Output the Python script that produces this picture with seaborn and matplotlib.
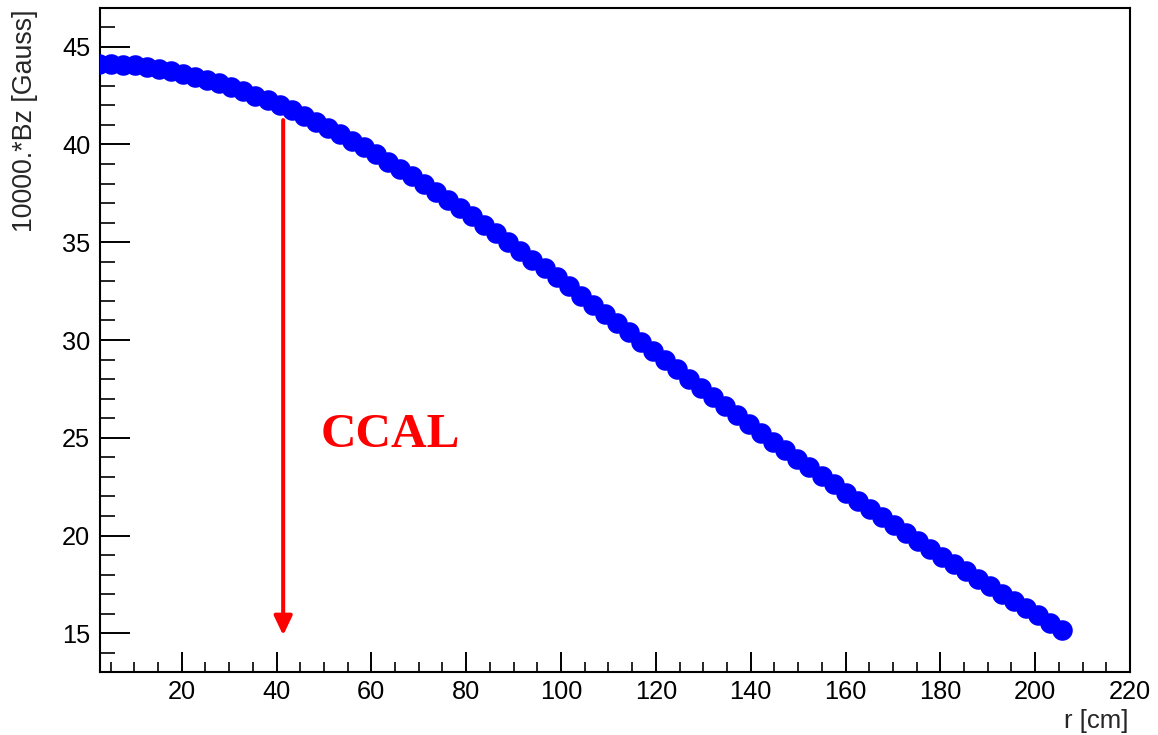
import matplotlib
matplotlib.use("Agg")
import matplotlib.pyplot as plt
from matplotlib.ticker import MultipleLocator
import seaborn as sns
import pandas as pd

# ---- data ----
r_cm = [2.54, 5.08, 7.62, 10.16, 12.70, 15.24, 17.78, 20.32, 22.86, 25.40,
        27.94, 30.48, 33.02, 35.56, 38.10, 40.64, 43.18, 45.72, 48.26, 50.80,
        53.34, 55.88, 58.42, 60.96, 63.50, 66.04, 68.58, 71.12, 73.66, 76.20,
        78.74, 81.28, 83.82, 86.36, 88.90, 91.44, 93.98, 96.52, 99.06, 101.60,
        104.14, 106.68, 109.22, 111.76, 114.30, 116.84, 119.38, 121.92, 124.46, 127.00,
        129.54, 132.08, 134.62, 137.16, 139.70, 142.24, 144.78, 147.32, 149.86, 152.40,
        154.94, 157.48, 160.02, 162.56, 165.10, 167.64, 170.18, 172.72, 175.26, 177.80,
        180.34, 182.88, 185.42, 187.96, 190.50, 193.04, 195.58, 198.12, 200.66, 203.20,
        205.74]
bz_gauss = [44.14, 44.11, 44.08, 44.04, 43.94, 43.84, 43.74, 43.63, 43.46, 43.30,
            43.13, 42.96, 42.73, 42.50, 42.27, 42.03, 41.74, 41.45, 41.17, 40.86,
            40.53, 40.19, 39.86, 39.51, 39.13, 38.76, 38.38, 37.99, 37.58, 37.17,
            36.76, 36.33, 35.90, 35.46, 35.02, 34.57, 34.11, 33.66, 33.20, 32.74,
            32.27, 31.80, 31.33, 30.86, 30.39, 29.91, 29.44, 28.97, 28.50, 28.03,
            27.56, 27.10, 26.63, 26.17, 25.71, 25.26, 24.81, 24.37, 23.92, 23.49,
            23.06, 22.62, 22.19, 21.78, 21.36, 20.94, 20.53, 20.13, 19.73, 19.33,
            18.93, 18.55, 18.17, 17.78, 17.40, 17.03, 16.66, 16.29, 15.92, 15.55,
            15.19]
x_ticks = [20, 40, 60, 80, 100, 120, 140, 160, 180, 200, 220]
y_ticks = [15, 20, 25, 30, 35, 40, 45]
x_label = "r [cm]"
y_label = "10000.*Bz [Gauss]"
note_text = "CCAL"
arrow_r = 41.4
arrow_from, arrow_to = 41.25, 14.9

df = pd.DataFrame({"r": r_cm, "bz": bz_gauss})

sns.set_style("ticks")
plt.rcParams["font.family"] = ["Liberation Sans", "DejaVu Sans"]

W, H = 1158, 735
fig = plt.figure(figsize=(W / 100, H / 100), dpi=100)
ax = fig.add_axes([100 / W, 1 - 671.7 / H, 1030 / W, (671.7 - 8) / H])

sns.scatterplot(data=df, x="r", y="bz", ax=ax, color="#0000ff", s=14.8 ** 2,
                linewidth=0, marker="o", zorder=3, legend=False)

ax.set_xlim(2.77, 220)
ax.set_ylim(13.04, 46.98)
ax.set_xticks(x_ticks)
ax.set_yticks(y_ticks)
ax.xaxis.set_minor_locator(MultipleLocator(5))
ax.yaxis.set_minor_locator(MultipleLocator(1))
ax.set_xlabel("")
ax.set_ylabel("")

for s in ax.spines.values():
    s.set_linewidth(1.5)
    s.set_color("black")
    s.set_visible(True)

ax.tick_params(axis="x", which="major", direction="in", length=14.4, width=1.4,
               labelsize=18.3, pad=6, colors="black")
ax.tick_params(axis="x", which="minor", direction="in", length=7.2, width=1.4)
ax.tick_params(axis="y", which="major", direction="in", length=21.6, width=1.4,
               labelsize=18.3, pad=7, colors="black")
ax.tick_params(axis="y", which="minor", direction="in", length=10.8, width=1.4)
ax.tick_params(top=False, right=False, which="both")

# arrow and annotation
ax.annotate("", xy=(arrow_r, arrow_to), xytext=(arrow_r, arrow_from),
            arrowprops=dict(arrowstyle="-|>,head_length=0.8,head_width=0.38",
                            color="#ff0000", lw=2.9, mutation_scale=14.4,
                            shrinkA=0, shrinkB=0), zorder=4)
ax.text(49.2, 24.54, note_text, color="#ff0000", fontsize=35.5, fontweight="bold",
        family=["Liberation Serif", "DejaVu Serif"], ha="left", va="baseline")

fig.text(25 / W, 1 - 10 / H, y_label, rotation=90, ha="center", va="top", fontsize=19.3)
fig.text(1128 / W, 1 - 733 / H, x_label, ha="right", va="bottom", fontsize=18.5)

fig.savefig("out.png", dpi=100, facecolor="white")
